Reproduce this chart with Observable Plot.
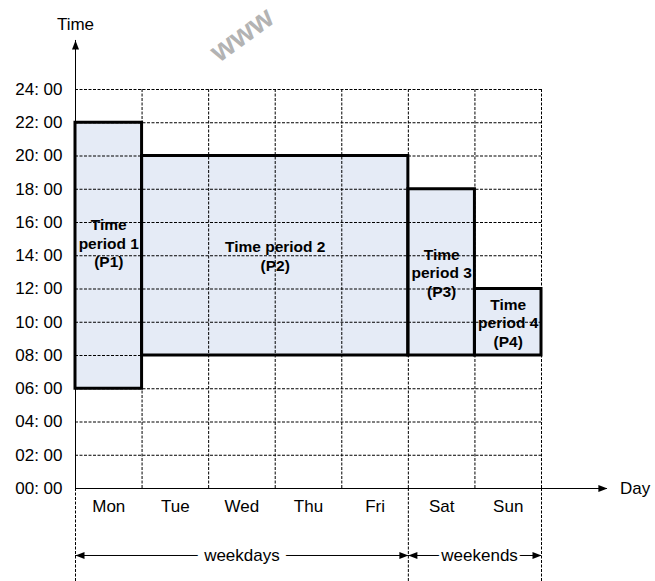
<!DOCTYPE html>
<html><head><meta charset="utf-8">
<script src="https://cdn.jsdelivr.net/npm/d3@7"></script>
<script src="https://cdn.jsdelivr.net/npm/@observablehq/plot@0.6"></script>
<style>body{margin:0;background:#fff}</style>
</head><body><div id="chart"></div>
<script>
const days = ["Mon", "Tue", "Wed", "Thu", "Fri", "Sat", "Sun"];
const hourTicks = [0, 2, 4, 6, 8, 10, 12, 14, 16, 18, 20, 22, 24];
const timeLabels = ["00: 00", "02: 00", "04: 00", "06: 00", "08: 00", "10: 00", "12: 00", "14: 00", "16: 00", "18: 00", "20: 00", "22: 00", "24: 00"];
const periodNames = ["Time\nperiod 1\n(P1)", "Time period 2\n(P2)", "Time\nperiod 3\n(P3)", "Time\nperiod 4\n(P4)"];
const periodStartDay = [0, 1, 5, 6];
const periodEndDay = [1, 5, 6, 7];
const periodStartHour = [6, 8, 8, 8];
const periodEndHour = [22, 20, 18, 12];
const groupNames = ["weekdays", "weekends"];
const groupStartDay = [0, 5];
const groupEndDay = [5, 7];

const periods = periodNames.map((name, i) => ({
  name, x1: periodStartDay[i], x2: periodEndDay[i], y1: periodStartHour[i], y2: periodEndHour[i]
}));
const ticks = hourTicks.map((h, i) => ({h, label: timeLabels[i]}));
const dayData = days.map((d, i) => ({d, x: i + 0.5}));
const dayBounds = d3.range(1, days.length + 1);
const groups = groupNames.map((g, i) => ({g, x1: groupStartDay[i], x2: groupEndDay[i]}));
const groupBounds = [0, ...groupEndDay];

const headRight = {draw(ctx) { ctx.moveTo(0, 0); ctx.lineTo(-9, -3.5); ctx.lineTo(-9, 3.5); ctx.closePath(); }};

const nDays = days.length;
const yMax = hourTicks[hourTicks.length - 1];
const rowY = -4.03; // annotation row (below the axis)
const bottomY = -5.6;
const dash = "3,1.5";

const chart = Plot.plot({
  width: 655,
  height: 581,
  marginLeft: 75,
  marginRight: 114,
  marginTop: 89,
  marginBottom: 93,
  x: {domain: [0, nDays], axis: null},
  y: {domain: [0, yMax], axis: null},
  style: {fontFamily: "'Liberation Sans', Arial, sans-serif", fontSize: "17px", background: "#fff", color: "#000", overflow: "visible"},
  marks: [
    // watermark
    Plot.text(["www"], {x: 2.5, y: 27.3, text: d => d, rotate: -36, fill: "#8c8c8c", fontSize: 30, fontWeight: "bold", opacity: 0.65}),
    // period fills
    Plot.rect(periods, {x1: "x1", x2: "x2", y1: "y1", y2: "y2", fill: "#e5ebf6"}),
    // period labels
    Plot.text(periods.slice(0, 1), {x: d => (d.x1 + d.x2) / 2, y: d => (d.y1 + d.y2) / 2, text: "name", dy: -13, fontWeight: "bold", fontSize: 15.5, lineHeight: 1.2}),
    Plot.text(periods.slice(1), {x: d => (d.x1 + d.x2) / 2, y: d => (d.y1 + d.y2) / 2, text: "name", fontWeight: "bold", fontSize: 15.5, lineHeight: 1.2}),
    // grid
    Plot.ruleY(hourTicks.slice(1), {x1: 0, x2: nDays, stroke: "#000", strokeWidth: 1, strokeDasharray: dash}),
    Plot.ruleX(dayBounds, {y1: 0, y2: yMax, stroke: "#000", strokeWidth: 1, strokeDasharray: dash}),
    // extensions below axis
    Plot.ruleX(groupBounds, {y1: 0, y2: bottomY, stroke: "#000", strokeWidth: 1, strokeDasharray: dash}),
    // period outlines
    Plot.rect(periods, {x1: "x1", x2: "x2", y1: "y1", y2: "y2", fill: "none", stroke: "#000", strokeWidth: 3}),
    // axes
    Plot.ruleY([0], {x1: 0, x2: 7.99, stroke: "#000", strokeWidth: 1}),
    Plot.ruleX([0], {y1: 0, y2: 26.95, stroke: "#000", strokeWidth: 1}),
    Plot.dot([0], {x: 7.99, y: 0, symbol: headRight, fill: "#000", stroke: null}),
    Plot.dot([0], {x: 0, y: 26.95, symbol: headRight, rotate: -90, fill: "#000", stroke: null}),
    Plot.text(["Time"], {x: 0, y: 27.9, text: d => d, fontSize: 17}),
    Plot.text(["Day"], {x: 8.18, y: 0, text: d => d, textAnchor: "start", fontSize: 17}),
    // tick labels
    Plot.text(ticks, {x: 0, y: "h", text: "label", textAnchor: "end", dx: -13, fontSize: 17}),
    Plot.text(dayData, {x: "x", y: -1.1, text: "d", fontSize: 17}),
    // group annotations
    Plot.ruleY(groups, {y: rowY, x1: "x1", x2: "x2", stroke: "#000", strokeWidth: 1}),
    Plot.text(groups.slice(0, 1), {x: d => (d.x1 + d.x2) / 2, y: rowY, text: "g", fontSize: 17, stroke: "#fff", strokeWidth: 14, fill: "#000", paintOrder: "stroke"}),
    Plot.text(groups.slice(1), {x: d => (d.x1 + d.x2) / 2 + 0.07, y: rowY, text: "g", fontSize: 17, stroke: "#fff", strokeWidth: 6, fill: "#000", paintOrder: "stroke"}),
    Plot.dot(groups, {x: "x1", y: rowY, symbol: headRight, rotate: 180, fill: "#000", stroke: null}),
    Plot.dot(groups, {x: "x2", y: rowY, symbol: headRight, fill: "#000", stroke: null})
  ]
});
document.getElementById("chart").append(chart);
</script>
</body></html>
